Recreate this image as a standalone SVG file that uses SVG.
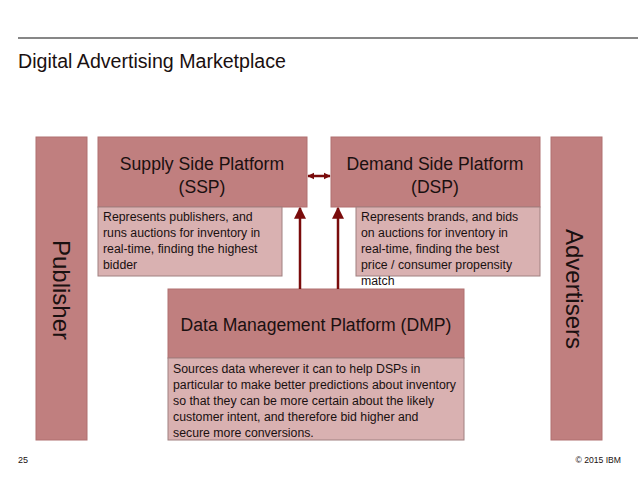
<svg xmlns="http://www.w3.org/2000/svg" width="638" height="479" viewBox="0 0 638 479">
<defs>
<style>
text{font-family:"Liberation Sans",Arial,sans-serif;fill:#1a1010}
.dark{fill:#c07f7f;stroke:#b07070;stroke-width:1}
.light{fill:#d9b1b1;stroke:#a08080;stroke-width:1}
.head{font-size:17.6px;text-anchor:middle}
.desc{font-size:12.3px}
.side{font-size:24px;text-anchor:middle}
.conn{stroke:#7a0c0c;stroke-width:2.5;fill:none}
</style>
<marker id="ah" viewBox="0 0 10 10" refX="9" refY="5" markerWidth="12" markerHeight="13" orient="auto-start-reverse" markerUnits="userSpaceOnUse">
<path d="M0,0 L10,5 L0,10 z" fill="#7a0c0c"/>
</marker>
<marker id="ahs" viewBox="0 0 10 10" refX="9" refY="5" markerWidth="7" markerHeight="10" orient="auto-start-reverse" markerUnits="userSpaceOnUse">
<path d="M0,0 L10,5 L0,10 z" fill="#7a0c0c"/>
</marker>
</defs>
<rect width="638" height="479" fill="#fff"/>
<line x1="18" y1="38" x2="638" y2="38" stroke="#111" stroke-width="1.2"/>
<text x="18" y="68" font-size="19.6">Digital Advertising Marketplace</text>

<g id="publisher">
<rect class="dark" x="36" y="137" width="51" height="303"/>
<text class="side" transform="translate(53,290) rotate(90)">Publisher</text>
</g>
<g id="advertisers">
<rect class="dark" x="551" y="137" width="51" height="303"/>
<text class="side" transform="translate(566,289) rotate(90)">Advertisers</text>
</g>

<g id="ssp">
<rect class="dark" x="98" y="137" width="209" height="70"/>
<text class="head" x="202" y="170">Supply Side Platform</text>
<text class="head" x="202" y="193">(SSP)</text>
</g>
<g id="ssp-desc">
<rect class="light" x="98" y="207" width="184" height="69"/>
<text class="desc" x="103" y="221">Represents publishers, and</text>
<text class="desc" x="103" y="237">runs auctions for inventory in</text>
<text class="desc" x="103" y="253">real-time, finding the highest</text>
<text class="desc" x="103" y="269">bidder</text>
</g>

<g id="dsp">
<rect class="dark" x="331" y="137" width="209" height="70"/>
<text class="head" x="435" y="170">Demand Side Platform</text>
<text class="head" x="435" y="193">(DSP)</text>
</g>
<g id="dsp-desc">
<rect class="light" x="356" y="207" width="184" height="69"/>
<text class="desc" x="361" y="221">Represents brands, and bids</text>
<text class="desc" x="361" y="237">on auctions for inventory in</text>
<text class="desc" x="361" y="253">real-time, finding the best</text>
<text class="desc" x="361" y="269">price / consumer propensity</text>
<text class="desc" x="361" y="285">match</text>
</g>

<g id="dmp">
<rect class="dark" x="168" y="289" width="296" height="69"/>
<text class="head" x="316" y="331">Data Management Platform (DMP)</text>
</g>
<g id="dmp-desc">
<rect class="light" x="168" y="358" width="296" height="82"/>
<text class="desc" x="173" y="373">Sources data wherever it can to help DSPs in</text>
<text class="desc" x="173" y="389">particular to make better predictions about inventory</text>
<text class="desc" x="173" y="405">so that they can be more certain about the likely</text>
<text class="desc" x="173" y="421">customer intent, and therefore bid higher and</text>
<text class="desc" x="173" y="437">secure more conversions.</text>
</g>

<g id="connectors">
<line class="conn" x1="308" y1="176" x2="330" y2="176" marker-start="url(#ahs)" marker-end="url(#ahs)"/>
<line class="conn" x1="300" y1="289" x2="300" y2="208" marker-end="url(#ah)"/>
<line class="conn" x1="338" y1="289" x2="338" y2="208" marker-end="url(#ah)"/>
</g>

<text x="18" y="463" font-size="9">25</text>
<text x="621" y="463" font-size="8.6" text-anchor="end">© 2015 IBM</text>
</svg>
